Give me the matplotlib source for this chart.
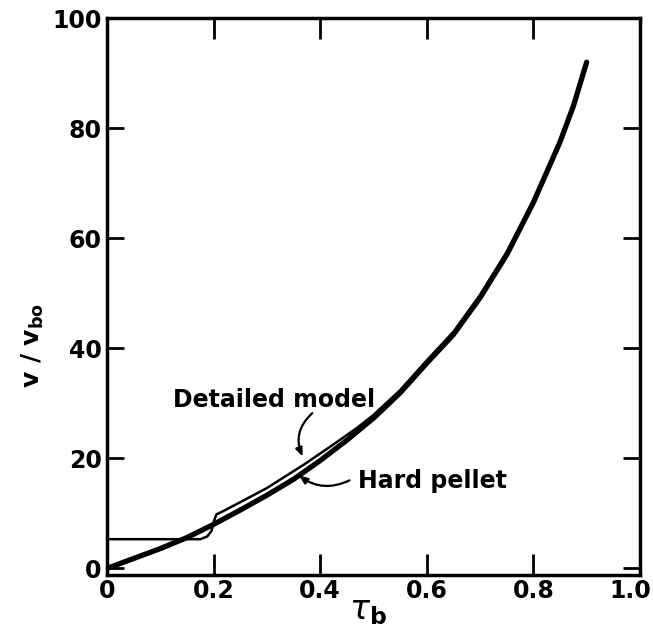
import matplotlib.pyplot as plt
from matplotlib.transforms import ScaledTranslation

# hard pellet curve
hp_x = [0.0, 0.05, 0.10, 0.15, 0.20, 0.25, 0.30, 0.35, 0.40, 0.45, 0.50,
        0.55, 0.60, 0.65, 0.70, 0.75, 0.80, 0.85, 0.875, 0.90]
hp_y = [0.0, 1.8, 3.6, 5.6, 8.0, 10.6, 13.3, 16.2, 19.6, 23.3, 27.3,
        31.9, 37.3, 42.5, 49.2, 57.0, 66.5, 77.5, 84.0, 92.0]

# detailed model curve
dm_x = [0.0, 0.10, 0.175, 0.188, 0.196, 0.200, 0.205, 0.22, 0.30, 0.37,
        0.426, 0.47, 0.50, 0.55, 0.60, 0.65, 0.70, 0.75, 0.78]
dm_y = [5.3, 5.3, 5.3, 5.8, 6.8, 8.4, 9.8, 10.5, 14.6, 18.9,
        22.6, 25.6, 27.9, 32.4, 37.8, 43.0, 49.7, 57.5, 62.8]

xticks = [0, 0.2, 0.4, 0.6, 0.8, 1.0]
xticklabels = ['0', '0.2', '0.4', '0.6', '0.8', '1.0']
yticks = [0, 20, 40, 60, 80, 100]

plt.rcParams['font.family'] = ['DejaVu Sans']
fig = plt.figure(figsize=(6.53, 6.27), dpi=100)
ax = fig.add_axes([0.164, 0.083, 0.816, 0.888])

ax.plot(hp_x, hp_y, color='black', lw=3.8, solid_capstyle='round')
ax.plot(dm_x, dm_y, color='black', lw=1.8, solid_capstyle='round')

ax.set_xlim(0, 1.0)
ax.set_ylim(-1.2, 100)
ax.set_xticks(xticks)
ax.set_xticklabels(xticklabels)
ax.set_yticks(yticks)
ax.tick_params(direction='in', width=2, top=True, right=True, labelsize=17)
ax.tick_params(axis='x', length=15, pad=3)
ax.tick_params(axis='y', length=12, pad=4)
for s in ax.spines.values():
    s.set_linewidth(2.5)
for lab in ax.get_xticklabels() + ax.get_yticklabels():
    lab.set_fontweight('bold')
# last x label sits a little left, as in the original
last = ax.get_xticklabels()[-1]
last.set_transform(last.get_transform() + ScaledTranslation(-10 / 100, 0, fig.dpi_scale_trans))

ax.set_xlabel(r'$\tau_{\mathbf{b}}$', fontsize=24)
ax.xaxis.set_label_coords(0.49, -0.064)
ax.xaxis.label.set_va('center')
ax.set_ylabel(r'v / v$_{\mathbf{bo}}$', fontsize=18, fontweight='bold')
ax.yaxis.set_label_coords(-0.14, 0.413)
ax.yaxis.label.set_va('center')

ax.text(0.313, 30.6, 'Detailed model', fontsize=17, fontweight='bold',
        ha='center', va='center')
ax.annotate('', xy=(0.367, 20.3), xytext=(0.385, 28.2),
            arrowprops=dict(arrowstyle='-|>,head_length=0.5,head_width=0.2',
                            color='black', lw=1.6,
                            connectionstyle='arc3,rad=0.35',
                            shrinkA=0, shrinkB=0))
ax.text(0.47, 15.8, 'Hard pellet', fontsize=17, fontweight='bold',
        ha='left', va='center')
ax.annotate('', xy=(0.36, 16.9), xytext=(0.455, 16.0),
            arrowprops=dict(arrowstyle='-|>,head_length=0.5,head_width=0.2',
                            color='black', lw=1.6,
                            connectionstyle='arc3,rad=-0.3',
                            shrinkA=0, shrinkB=0))

fig.savefig('out.png', dpi=100)
